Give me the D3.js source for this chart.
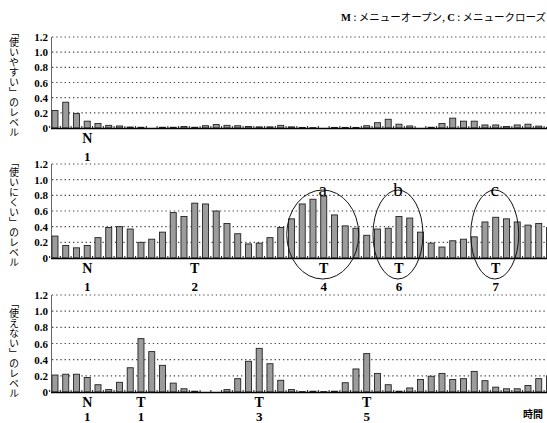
<!DOCTYPE html>
<html>
<head>
<meta charset="utf-8">
<script src="https://cdn.jsdelivr.net/npm/d3@7"></script>
<style>
  body { margin: 0; background: #fff; }
  svg { display: block; }
  .tick-label { font-family: "Liberation Serif", serif; font-weight: bold; font-size: 11px; }
  .mark { font-family: "Liberation Serif", serif; font-weight: bold; font-size: 14px; }
  .num { font-family: "Liberation Serif", serif; font-weight: bold; font-size: 13px; }
  .ylab { font-family: "Noto Sans CJK JP", sans-serif; font-size: 10px; writing-mode: vertical-rl; text-orientation: upright; }
</style>
</head>
<body>
<svg id="chart" width="547" height="423"></svg>
<script>
// bar heights, one value per time slot
const easyVals = [0.23, 0.34, 0.19, 0.09, 0.06, 0.035, 0.027, 0.013, 0.01, 0, 0.01, 0.01, 0.02, 0.01, 0.03, 0.045,
  0.035, 0.03, 0.02, 0.015, 0.015, 0.035, 0.015, 0.008, 0.005, 0, 0.008, 0.008, 0.008, 0.03, 0.07, 0.115,
  0.05, 0.027, 0, 0.01, 0.06, 0.13, 0.09, 0.09, 0.04, 0.04, 0.02, 0.04, 0.05, 0.025, 0.01];
const hardVals = [0.28, 0.16, 0.13, 0.16, 0.26, 0.39, 0.40, 0.37, 0.20, 0.24, 0.33, 0.58, 0.53, 0.70, 0.69, 0.60,
  0.44, 0.31, 0.18, 0.19, 0.26, 0.39, 0.50, 0.69, 0.75, 0.79, 0.55, 0.41, 0.38, 0.29, 0.37, 0.38,
  0.53, 0.51, 0.33, 0.19, 0.14, 0.22, 0.24, 0.27, 0.46, 0.52, 0.50, 0.46, 0.42, 0.44, 0.39];
const unusableVals = [0.21, 0.22, 0.22, 0.18, 0.09, 0.03, 0.12, 0.30, 0.66, 0.50, 0.33, 0.11, 0.04, 0.01, 0, 0,
  0.03, 0.165, 0.38, 0.54, 0.35, 0.145, 0.03, 0.005, 0.01, 0.005, 0.01, 0.115, 0.285, 0.475, 0.23, 0.09,
  0.01, 0.05, 0.155, 0.195, 0.23, 0.155, 0.165, 0.255, 0.14, 0.06, 0.04, 0.04, 0.08, 0.165, 0.2];

const yTicks = [0, 0.2, 0.4, 0.6, 0.8, 1.0, 1.2];
const yTickLabels = ['0', '0.2', '0.4', '0.6', '0.8', '1.0', '1.2'];

// event markers under each panel: slot index, symbol, number
const easyMarks = [{bar: 4, sym: 'N', num: '1'}];
const hardMarks = [{bar: 4, sym: 'N', num: '1'}, {bar: 14, sym: 'T', num: '2'}, {bar: 26, sym: 'T', num: '4'},
  {bar: 33, sym: 'T', num: '6'}, {bar: 42, sym: 'T', num: '7'}];
const unusableMarks = [{bar: 4, sym: 'N', num: '1'}, {bar: 9, sym: 'T', num: '1'}, {bar: 20, sym: 'T', num: '3'},
  {bar: 30, sym: 'T', num: '5'}];
const circled = [{bar: 26, label: 'a', rx: 36}, {bar: 33, label: 'b', rx: 25}, {bar: 42, label: 'c', rx: 24}];

const panels = [
  {title: '「使いやすい」のレベル', vals: easyVals, marks: easyMarks, y0: 128, y1: 37, labY: 82, numDy: 33},
  {title: '「使いにくい」のレベル', vals: hardVals, marks: hardMarks, y0: 258, y1: 164, labY: 212, numDy: 33},
  {title: '「使えない」のレベル', vals: unusableVals, marks: unusableMarks, y0: 392, y1: 295, labY: 348, numDy: 29}
];

const svg = d3.select('#chart');
const slots = d3.range(1, 48);

const xS = d3.scaleBand().domain(slots).range([49.6, 554.85]).paddingInner(0.44).paddingOuter(0.22);
const cx = i => xS(i) + xS.bandwidth() / 2;

panels.forEach(p => {
  const yS = d3.scaleLinear().domain([0, 1.2]).range([p.y0, p.y1]);
  const g = svg.append('g');

  // dotted grid
  g.selectAll('.grid').data(yTicks.slice(1))
    .join('line')
    .attr('x1', 52).attr('x2', 547)
    .attr('y1', d => yS(d)).attr('y2', d => yS(d))
    .attr('stroke', '#444').attr('stroke-width', 1.1)
    .attr('stroke-dasharray', '1.3,2.9');

  // y axis line
  g.append('line')
    .attr('x1', 51.5).attr('x2', 51.5)
    .attr('y1', yS(1.2)).attr('y2', yS(0))
    .attr('stroke', '#666').attr('stroke-width', 1);

  g.selectAll('.tick-label').data(yTicks)
    .join('text')
    .attr('class', 'tick-label')
    .attr('x', 48)
    .attr('y', d => yS(d) + 4)
    .attr('text-anchor', 'end')
    .text((d, i) => yTickLabels[i]);

  // bars
  g.selectAll('.bar').data(p.vals)
    .join('rect')
    .attr('x', (d, i) => xS(slots[i]))
    .attr('y', d => yS(d))
    .attr('width', xS.bandwidth())
    .attr('height', d => yS(0) - yS(d))
    .attr('fill', '#9c9c9c')
    .attr('stroke', '#222')
    .attr('stroke-width', 0.9);

  // small ticks between slots
  g.selectAll('.xtick').data(slots)
    .join('line')
    .attr('x1', d => xS(d) - xS.step() * 0.22)
    .attr('x2', d => xS(d) - xS.step() * 0.22)
    .attr('y1', yS(0)).attr('y2', yS(0) - 2)
    .attr('stroke', '#222').attr('stroke-width', 1);

  // baseline
  g.append('line')
    .attr('x1', 51).attr('x2', 547)
    .attr('y1', yS(0) + 0.5).attr('y2', yS(0) + 0.5)
    .attr('stroke', '#000').attr('stroke-width', 1.6);

  // vertical title
  g.append('text')
    .attr('class', 'ylab')
    .attr('x', 14)
    .attr('y', p.labY)
    .attr('text-anchor', 'middle')
    .text(p.title);

  g.selectAll('.mark').data(p.marks)
    .join('text')
    .attr('class', 'mark')
    .attr('x', d => cx(d.bar))
    .attr('y', p.y0 + 15)
    .attr('text-anchor', 'middle')
    .text(d => d.sym);

  g.selectAll('.num').data(p.marks)
    .join('text')
    .attr('class', 'num')
    .attr('x', d => cx(d.bar))
    .attr('y', p.y0 + p.numDy)
    .attr('text-anchor', 'middle')
    .text(d => d.num);
});

// circled regions in the middle panel
svg.selectAll('.ring').data(circled)
  .join('ellipse')
  .attr('cx', d => cx(d.bar) - 1)
  .attr('cy', 234.5)
  .attr('rx', d => d.rx)
  .attr('ry', 44.5)
  .attr('fill', 'none')
  .attr('stroke', '#111')
  .attr('stroke-width', 1);

svg.selectAll('.ring-label').data(circled)
  .join('text')
  .attr('x', d => cx(d.bar) - 1)
  .attr('y', 196)
  .attr('text-anchor', 'middle')
  .style('font-family', '"Liberation Serif", serif')
  .style('font-size', '19px')
  .text(d => d.label);

// legend top right
const leg = svg.append('text')
  .attr('x', 546).attr('y', 21)
  .attr('text-anchor', 'end')
  .style('font-size', '10.5px')
  .style('font-family', '"Noto Sans CJK JP", sans-serif');
leg.append('tspan').style('font-family', '"Liberation Serif", serif').style('font-weight', 'bold').text('M');
leg.append('tspan').text(' : メニューオープン, ');
leg.append('tspan').style('font-family', '"Liberation Serif", serif').style('font-weight', 'bold').text('C');
leg.append('tspan').text(' : メニュークローズ');

svg.append('text')
  .attr('x', 543).attr('y', 418)
  .attr('text-anchor', 'end')
  .style('font-family', '"Noto Sans CJK JP", sans-serif')
  .style('font-weight', 'bold')
  .style('font-size', '10px')
  .text('時間');
</script>
</body>
</html>
